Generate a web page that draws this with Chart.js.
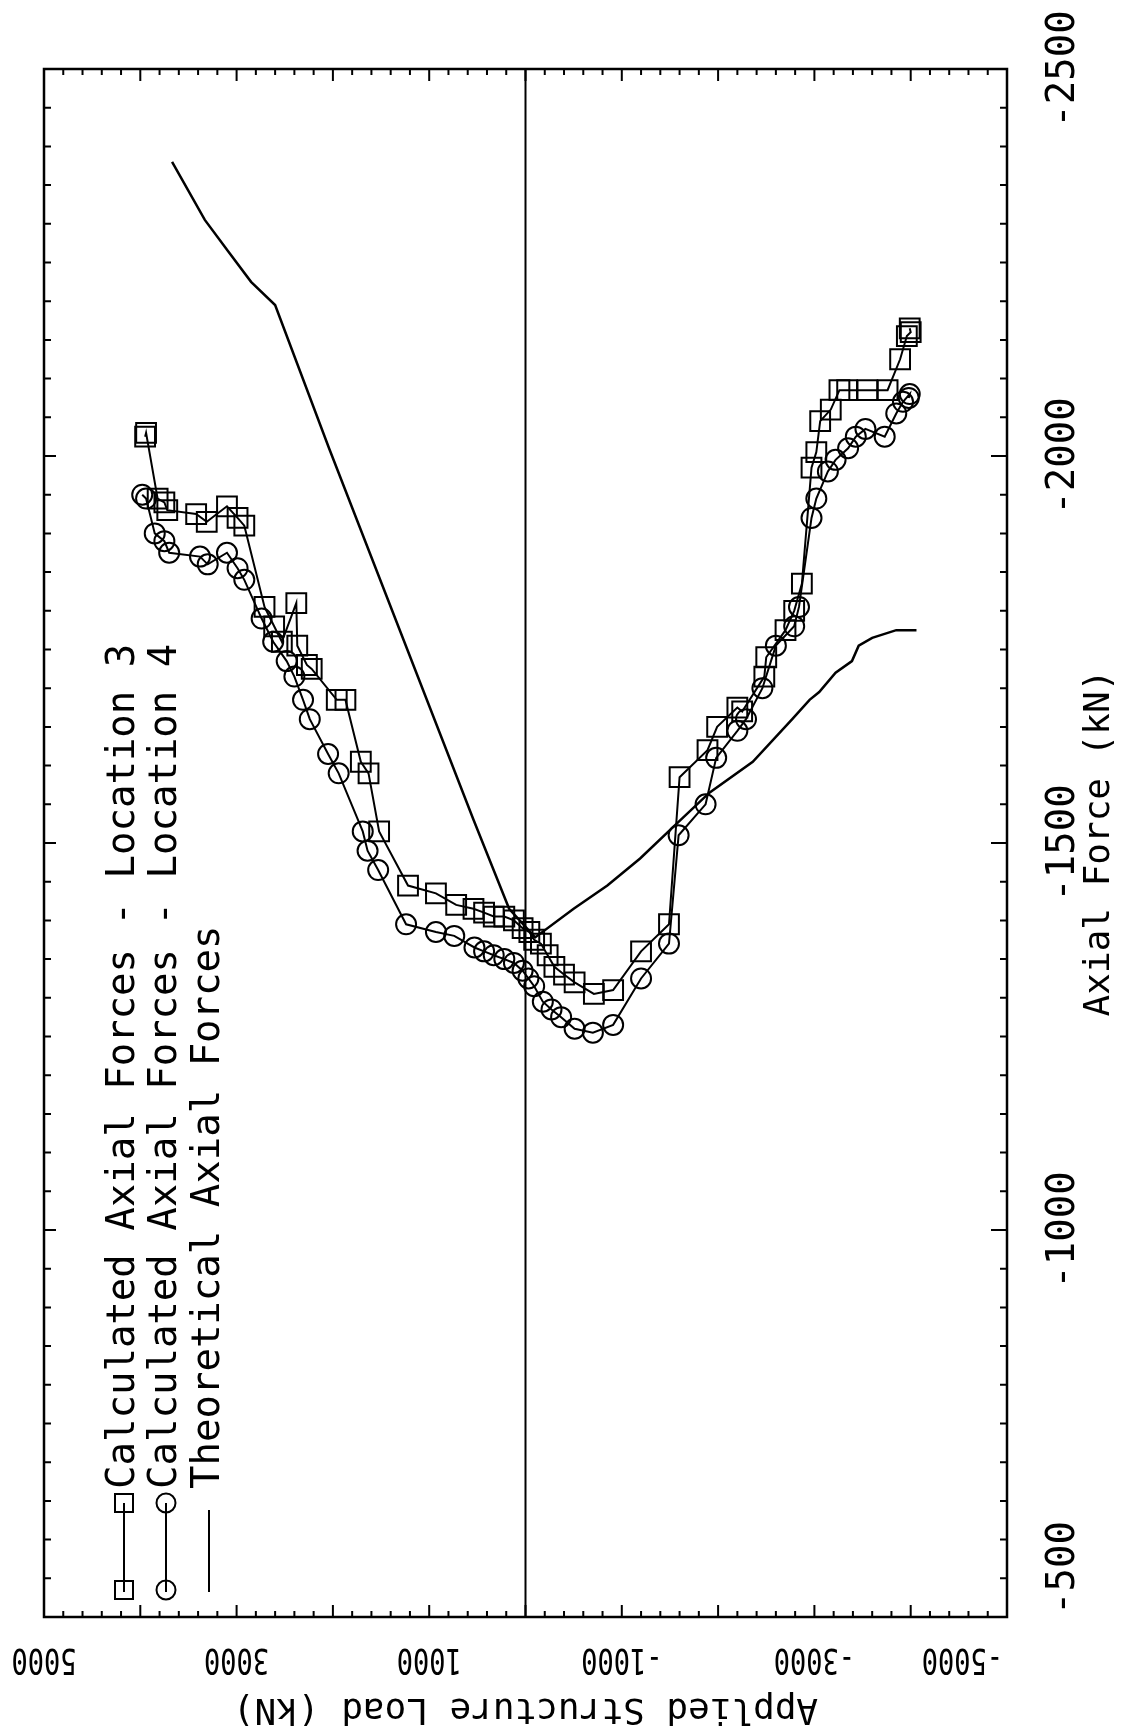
<!DOCTYPE html>
<html><head><meta charset="utf-8">
<script src="https://cdn.jsdelivr.net/npm/chart.js@4.4.1/dist/chart.umd.min.js"></script>
<style>html,body{margin:0;padding:0;background:#fff;} #wrap{position:relative;width:1128px;height:1734px;}</style>
</head><body><div id="wrap"><canvas id="c"></canvas></div>
<script>
// Applied structure load (kN) and axial force (kN)
const l3Load = [3950,3940,3820,3750,3720,3420,3310,3100,2990,2920,2710,2610,2530,2380,2370,2270,2220,1960,1870,1710,1630,1520,1220,930,720,540,430,330,220,120,30,-40,-90,-160,-230,-300,-400,-510,-710,-910,-1200,-1490,-1600,-1890,-1990,-2200,-2250,-2480,-2500,-2700,-2790,-2870,-2970,-3020,-3060,-3170,-3260,-3340,-3550,-3760,-3890,-3960,-4000,-3990];
const l3Axial = [-2025,-2030,-1945,-1940,-1930,-1925,-1915,-1935,-1920,-1910,-1805,-1780,-1760,-1810,-1755,-1730,-1725,-1685,-1685,-1605,-1590,-1515,-1445,-1435,-1420,-1415,-1410,-1405,-1405,-1400,-1390,-1385,-1375,-1370,-1355,-1340,-1330,-1320,-1305,-1310,-1360,-1395,-1585,-1620,-1650,-1675,-1670,-1715,-1740,-1775,-1800,-1835,-1985,-2005,-2045,-2060,-2085,-2085,-2085,-2085,-2125,-2155,-2160,-2165];
const l4Load = [3980,3940,3850,3750,3700,3380,3300,3100,2990,2920,2740,2620,2480,2400,2310,2240,2050,1940,1690,1640,1530,1240,930,740,530,430,330,220,120,30,-30,-90,-180,-270,-370,-510,-700,-910,-1200,-1490,-1590,-1870,-1980,-2200,-2290,-2460,-2600,-2790,-2840,-2970,-3020,-3140,-3220,-3350,-3430,-3530,-3730,-3850,-3920,-3990,-3980];
const l4Axial = [-1950,-1945,-1900,-1890,-1875,-1870,-1860,-1875,-1855,-1840,-1790,-1760,-1735,-1715,-1685,-1660,-1615,-1590,-1515,-1490,-1465,-1395,-1385,-1380,-1365,-1360,-1355,-1350,-1345,-1335,-1325,-1315,-1295,-1285,-1275,-1260,-1255,-1265,-1325,-1370,-1510,-1550,-1610,-1645,-1660,-1700,-1755,-1780,-1805,-1920,-1945,-1980,-1995,-2010,-2025,-2035,-2025,-2055,-2070,-2080,-2075];
const thLoad = [3670,3330,3090,2850,2600,2040,540,170,-100,-500,-850,-1190,-1570,-1910,-2360,-2770,-2950,-3050,-3220,-3390,-3460,-3600,-3850,-4060];
const thAxial = [-2380,-2305,-2265,-2225,-2195,-2010,-1530,-1415,-1378,-1415,-1445,-1480,-1525,-1565,-1605,-1660,-1685,-1695,-1720,-1735,-1755,-1765,-1775,-1775];
const zeroLoad = [0,0];
const zeroAxial = [-2500,-500];

const xTickValues = [5000,3000,1000,-1000,-3000,-5000];
const yTickValues = [-500,-1000,-1500,-2000,-2500];
const legendLabels = ["Calculated Axial Forces - Location 3","Calculated Axial Forces - Location 4","Theoretical Axial Forces"];
const xTitle = "Applied Structure Load (kN)";
const yTitle = "Axial Force (kN)";

const pts = (xs, ys) => xs.map((v, i) => ({x: v, y: ys[i]}));
const FONT = '"DejaVu Sans Mono", "Liberation Mono", monospace';

function txt(ctx, s, x, y, ang, size, align, sx) {
  ctx.save();
  ctx.translate(x, y);
  ctx.rotate(ang);
  ctx.scale(sx || 1, 1);
  ctx.font = size + 'px ' + FONT;
  ctx.fillStyle = '#000';
  ctx.textAlign = align || 'center';
  ctx.textBaseline = 'middle';
  ctx.fillText(s, 0, 0);
  ctx.restore();
}

const framePlugin = {
  id: 'frame',
  afterDraw(chart) {
    const {ctx, chartArea: a, scales: {x, y}} = chart;
    ctx.save();
    ctx.strokeStyle = '#000';
    ctx.lineWidth = 2.5;
    ctx.strokeRect(a.left, a.top, a.right - a.left, a.bottom - a.top);
    ctx.lineWidth = 2;
    ctx.beginPath();
    for (let v = -5000; v <= 5000; v += 200) {
      const px = x.getPixelForValue(v);
      const len = (v % 1000 === 0) ? 12 : 6;
      ctx.moveTo(px, a.top); ctx.lineTo(px, a.top + len);
      ctx.moveTo(px, a.bottom); ctx.lineTo(px, a.bottom - len);
    }
    for (let v = -2500; v <= -500; v += 50) {
      const py = y.getPixelForValue(v);
      const major = (v % 500 === 0);
      ctx.moveTo(a.right, py); ctx.lineTo(a.right - (major ? 16 : 7), py);
      ctx.moveTo(a.left, py); ctx.lineTo(a.left + (major ? 12 : 7), py);
    }
    ctx.stroke();

    // right axis labels (rotated, reading bottom to top)
    yTickValues.forEach(v => {
      const py = y.getPixelForValue(v);
      if (v === -500) txt(ctx, String(v), 1064, a.bottom - 2, -Math.PI / 2, 39, 'left');
      else txt(ctx, String(v), 1064, py, -Math.PI / 2, 39, 'center');
    });
    txt(ctx, yTitle, 1100, (a.top + a.bottom) / 2, -Math.PI / 2, 36, 'center');

    // bottom axis labels (upside down)
    xTickValues.forEach(v => {
      const px = x.getPixelForValue(v);
      if (v === -5000) txt(ctx, String(v), a.right - 4, 1658, Math.PI, 36, 'left', 0.75);
      else txt(ctx, String(v), px, 1658, Math.PI, 36, 'center', 0.75);
    });
    txt(ctx, xTitle, (a.left + a.right) / 2, 1708, Math.PI, 36, 'center');

    // legend
    const cols = [124, 166, 209];
    ctx.lineWidth = 2;
    cols.forEach((cx, i) => {
      ctx.beginPath();
      ctx.moveTo(cx, 1592);
      ctx.lineTo(cx, i < 2 ? 1503 : 1510);
      ctx.stroke();
      if (i === 0) {
        ctx.strokeRect(cx - 9, 1590 - 9, 18, 18);
        ctx.strokeRect(cx - 9, 1503 - 9, 18, 18);
      } else if (i === 1) {
        ctx.beginPath(); ctx.arc(cx, 1590, 9.5, 0, Math.PI * 2); ctx.stroke();
        ctx.beginPath(); ctx.arc(cx, 1503, 9.5, 0, Math.PI * 2); ctx.stroke();
      }
      txt(ctx, legendLabels[i], cx, 1489, -Math.PI / 2, 39, 'left');
    });
    ctx.restore();
  }
};

new Chart(document.getElementById('c'), {
  type: 'scatter',
  data: {
    datasets: [
      {label: 'zero', data: pts(zeroLoad, zeroAxial), showLine: true, borderColor: '#000', borderWidth: 2, pointRadius: 0},
      {label: legendLabels[2], data: pts(thLoad, thAxial), showLine: true, borderColor: '#000', borderWidth: 2.5, pointRadius: 0, tension: 0},
      {label: legendLabels[0], data: pts(l3Load, l3Axial), showLine: true, borderColor: '#000', borderWidth: 2,
        pointStyle: 'rect', pointRadius: 14, pointBorderWidth: 2, pointBorderColor: '#000', pointBackgroundColor: 'rgba(0,0,0,0)'},
      {label: legendLabels[1], data: pts(l4Load, l4Axial), showLine: true, borderColor: '#000', borderWidth: 2,
        pointStyle: 'circle', pointRadius: 10, pointBorderWidth: 2, pointBorderColor: '#000', pointBackgroundColor: 'rgba(0,0,0,0)'}
    ]
  },
  options: {
    responsive: true,
    maintainAspectRatio: false,
    animation: false,
    layout: {padding: {left: 44, top: 69, right: 0, bottom: 0}},
    plugins: {legend: {display: false}, tooltip: {enabled: false}},
    scales: {
      x: {type: 'linear', min: -5000, max: 5000, reverse: true, position: 'bottom',
          grid: {display: false}, border: {display: false}, ticks: {display: false},
          afterFit(s) { s.height = 117; }},
      y: {type: 'linear', min: -2500, max: -500, reverse: true, position: 'right',
          grid: {display: false}, border: {display: false}, ticks: {display: false},
          afterFit(s) { s.width = 121; }}
    }
  },
  plugins: [framePlugin]
});
</script>
</body></html>
